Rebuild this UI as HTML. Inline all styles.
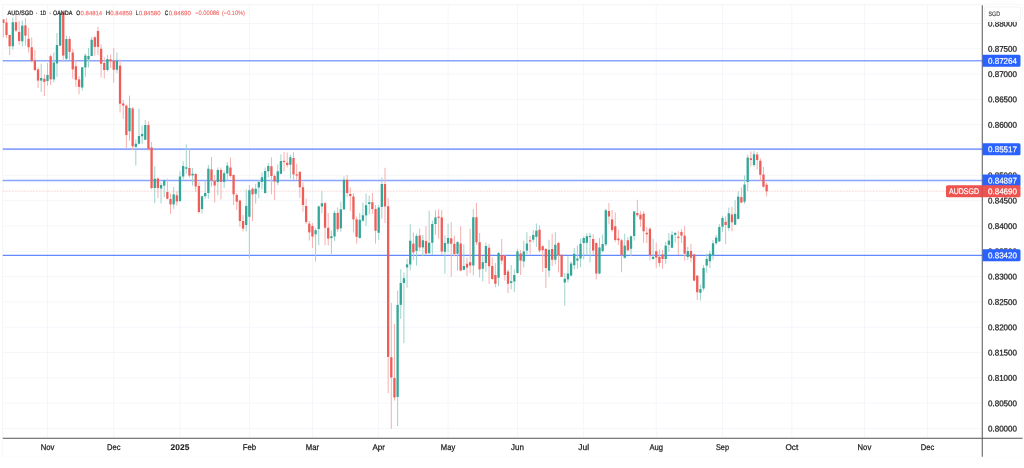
<!DOCTYPE html><html><head><meta charset="utf-8"><title>AUD/SGD</title>
<style>html,body{margin:0;padding:0;background:#fff}svg{display:block}text{font-family:"Liberation Sans","DejaVu Sans",sans-serif}</style></head><body>
<svg width="1024" height="468" viewBox="0 0 1024 468">
<rect width="1024" height="468" fill="#fff"/>
<defs><filter id="bl" x="0" y="0" width="1024" height="468" filterUnits="userSpaceOnUse"><feGaussianBlur stdDeviation="0.5"/></filter></defs>
<g filter="url(#bl)">
<rect x="2.75" y="4.75" width="1019.75" height="452.0" fill="none" stroke="#f0f2f5" stroke-width="0.8"/>
<g stroke="#f4f6fa" stroke-width="1" fill="none">
<line x1="47.50" y1="4.75" x2="47.50" y2="438.25"/>
<line x1="113.74" y1="4.75" x2="113.74" y2="438.25"/>
<line x1="179.97" y1="4.75" x2="179.97" y2="438.25"/>
<line x1="249.36" y1="4.75" x2="249.36" y2="438.25"/>
<line x1="312.44" y1="4.75" x2="312.44" y2="438.25"/>
<line x1="378.68" y1="4.75" x2="378.68" y2="438.25"/>
<line x1="448.07" y1="4.75" x2="448.07" y2="438.25"/>
<line x1="517.46" y1="4.75" x2="517.46" y2="438.25"/>
<line x1="583.70" y1="4.75" x2="583.70" y2="438.25"/>
<line x1="656.24" y1="4.75" x2="656.24" y2="438.25"/>
<line x1="722.48" y1="4.75" x2="722.48" y2="438.25"/>
<line x1="791.87" y1="4.75" x2="791.87" y2="438.25"/>
<line x1="864.41" y1="4.75" x2="864.41" y2="438.25"/>
<line x1="927.49" y1="4.75" x2="927.49" y2="438.25"/>
<line x1="2.75" y1="428.50" x2="982.25" y2="428.50"/>
<line x1="2.75" y1="403.19" x2="982.25" y2="403.19"/>
<line x1="2.75" y1="377.87" x2="982.25" y2="377.87"/>
<line x1="2.75" y1="352.55" x2="982.25" y2="352.55"/>
<line x1="2.75" y1="327.24" x2="982.25" y2="327.24"/>
<line x1="2.75" y1="301.92" x2="982.25" y2="301.92"/>
<line x1="2.75" y1="276.61" x2="982.25" y2="276.61"/>
<line x1="2.75" y1="251.29" x2="982.25" y2="251.29"/>
<line x1="2.75" y1="225.98" x2="982.25" y2="225.98"/>
<line x1="2.75" y1="200.66" x2="982.25" y2="200.66"/>
<line x1="2.75" y1="175.35" x2="982.25" y2="175.35"/>
<line x1="2.75" y1="150.03" x2="982.25" y2="150.03"/>
<line x1="2.75" y1="124.72" x2="982.25" y2="124.72"/>
<line x1="2.75" y1="99.40" x2="982.25" y2="99.40"/>
<line x1="2.75" y1="74.09" x2="982.25" y2="74.09"/>
<line x1="2.75" y1="48.77" x2="982.25" y2="48.77"/>
<line x1="2.75" y1="23.46" x2="982.25" y2="23.46"/>
</g>
<line x1="2.75" y1="191.2" x2="982.25" y2="191.2" stroke="#fad0ce" stroke-width="0.8" stroke-dasharray="2 1"/>
<line x1="2.75" y1="60.72" x2="982.25" y2="60.72" stroke="#88a4ff" stroke-width="1.6"/>
<line x1="2.75" y1="149.17" x2="982.25" y2="149.17" stroke="#88a4ff" stroke-width="1.6"/>
<line x1="2.75" y1="180.56" x2="982.25" y2="180.56" stroke="#88a4ff" stroke-width="1.6"/>
<line x1="2.75" y1="255.35" x2="982.25" y2="255.35" stroke="#6387ff" stroke-width="1.2"/>
<g id="candles">
<rect x="2.84" y="19.40" width="1.0" height="18.10" fill="#f6b0ae"/>
<rect x="2.75" y="19.40" width="1.74" height="3.60" fill="#f05d59"/>
<rect x="6.00" y="18.10" width="1.0" height="19.90" fill="#f6b0ae"/>
<rect x="5.35" y="22.50" width="2.30" height="12.50" fill="#f05d59"/>
<rect x="9.15" y="35.00" width="1.0" height="20.00" fill="#f6b0ae"/>
<rect x="8.50" y="35.00" width="2.30" height="11.25" fill="#f05d59"/>
<rect x="12.30" y="17.50" width="1.0" height="32.25" fill="#9fd3cc"/>
<rect x="11.65" y="22.25" width="2.30" height="24.00" fill="#33a698"/>
<rect x="15.46" y="15.00" width="1.0" height="16.90" fill="#f6b0ae"/>
<rect x="14.81" y="22.25" width="2.30" height="8.35" fill="#f05d59"/>
<rect x="18.61" y="21.00" width="1.0" height="24.00" fill="#f6b0ae"/>
<rect x="17.96" y="31.90" width="2.30" height="9.10" fill="#f05d59"/>
<rect x="21.77" y="20.60" width="1.0" height="25.90" fill="#9fd3cc"/>
<rect x="21.12" y="25.60" width="2.30" height="15.65" fill="#33a698"/>
<rect x="24.92" y="18.00" width="1.0" height="27.60" fill="#f6b0ae"/>
<rect x="24.27" y="25.40" width="2.30" height="10.20" fill="#f05d59"/>
<rect x="28.08" y="28.00" width="1.0" height="24.50" fill="#f6b0ae"/>
<rect x="27.43" y="38.75" width="2.30" height="8.50" fill="#f05d59"/>
<rect x="31.23" y="37.50" width="1.0" height="25.00" fill="#f6b0ae"/>
<rect x="30.58" y="47.25" width="2.30" height="13.75" fill="#f05d59"/>
<rect x="34.38" y="50.00" width="1.0" height="21.25" fill="#f6b0ae"/>
<rect x="33.73" y="60.60" width="2.30" height="9.40" fill="#f05d59"/>
<rect x="37.54" y="67.50" width="1.0" height="20.50" fill="#f6b0ae"/>
<rect x="36.89" y="69.40" width="2.30" height="11.20" fill="#f05d59"/>
<rect x="40.69" y="63.75" width="1.0" height="28.15" fill="#9fd3cc"/>
<rect x="40.04" y="78.00" width="2.30" height="2.60" fill="#33a698"/>
<rect x="43.85" y="74.40" width="1.0" height="21.60" fill="#f6b0ae"/>
<rect x="43.20" y="78.75" width="2.30" height="3.15" fill="#f05d59"/>
<rect x="47.00" y="63.00" width="1.0" height="22.60" fill="#9fd3cc"/>
<rect x="46.35" y="75.00" width="2.30" height="6.00" fill="#33a698"/>
<rect x="50.15" y="54.40" width="1.0" height="30.60" fill="#f6b0ae"/>
<rect x="49.50" y="56.25" width="2.30" height="23.15" fill="#f05d59"/>
<rect x="53.31" y="52.50" width="1.0" height="29.75" fill="#9fd3cc"/>
<rect x="52.66" y="62.50" width="2.30" height="16.90" fill="#33a698"/>
<rect x="56.46" y="33.00" width="1.0" height="43.90" fill="#9fd3cc"/>
<rect x="55.81" y="45.00" width="2.30" height="18.50" fill="#33a698"/>
<rect x="59.62" y="11.90" width="1.0" height="34.30" fill="#9fd3cc"/>
<rect x="58.97" y="13.75" width="2.30" height="31.85" fill="#33a698"/>
<rect x="62.77" y="11.25" width="1.0" height="50.65" fill="#f6b0ae"/>
<rect x="62.12" y="12.50" width="2.30" height="43.10" fill="#f05d59"/>
<rect x="65.92" y="35.60" width="1.0" height="24.40" fill="#9fd3cc"/>
<rect x="65.27" y="39.00" width="2.30" height="19.75" fill="#33a698"/>
<rect x="69.08" y="36.25" width="1.0" height="23.75" fill="#f6b0ae"/>
<rect x="68.43" y="39.00" width="2.30" height="12.90" fill="#f05d59"/>
<rect x="72.23" y="48.75" width="1.0" height="30.00" fill="#f6b0ae"/>
<rect x="71.58" y="52.50" width="2.30" height="16.90" fill="#f05d59"/>
<rect x="75.39" y="60.00" width="1.0" height="26.90" fill="#f6b0ae"/>
<rect x="74.74" y="66.25" width="2.30" height="13.50" fill="#f05d59"/>
<rect x="78.54" y="76.25" width="1.0" height="18.15" fill="#f6b0ae"/>
<rect x="77.89" y="79.40" width="2.30" height="7.50" fill="#f05d59"/>
<rect x="81.70" y="67.25" width="1.0" height="23.35" fill="#9fd3cc"/>
<rect x="81.05" y="67.25" width="2.30" height="20.25" fill="#33a698"/>
<rect x="84.85" y="53.75" width="1.0" height="23.15" fill="#9fd3cc"/>
<rect x="84.20" y="55.50" width="2.30" height="12.00" fill="#33a698"/>
<rect x="88.00" y="48.00" width="1.0" height="19.50" fill="#9fd3cc"/>
<rect x="87.35" y="56.00" width="2.30" height="3.40" fill="#33a698"/>
<rect x="91.16" y="36.90" width="1.0" height="19.35" fill="#9fd3cc"/>
<rect x="90.51" y="39.75" width="2.30" height="16.25" fill="#33a698"/>
<rect x="94.31" y="36.25" width="1.0" height="19.35" fill="#f6b0ae"/>
<rect x="93.66" y="37.25" width="2.30" height="9.65" fill="#f05d59"/>
<rect x="97.47" y="26.90" width="1.0" height="28.10" fill="#f6b0ae"/>
<rect x="96.82" y="31.00" width="2.30" height="15.90" fill="#f05d59"/>
<rect x="100.62" y="44.40" width="1.0" height="33.10" fill="#f6b0ae"/>
<rect x="99.97" y="48.75" width="2.30" height="15.00" fill="#f05d59"/>
<rect x="103.77" y="57.50" width="1.0" height="21.00" fill="#f6b0ae"/>
<rect x="103.12" y="63.00" width="2.30" height="7.00" fill="#f05d59"/>
<rect x="106.93" y="55.00" width="1.0" height="16.25" fill="#9fd3cc"/>
<rect x="106.28" y="59.00" width="2.30" height="11.00" fill="#33a698"/>
<rect x="110.08" y="54.40" width="1.0" height="13.60" fill="#f6b0ae"/>
<rect x="109.43" y="59.40" width="2.30" height="1.85" fill="#f05d59"/>
<rect x="113.24" y="48.00" width="1.0" height="34.75" fill="#f6b0ae"/>
<rect x="112.59" y="60.60" width="2.30" height="9.15" fill="#f05d59"/>
<rect x="116.39" y="52.50" width="1.0" height="20.50" fill="#9fd3cc"/>
<rect x="115.74" y="60.60" width="2.30" height="9.15" fill="#33a698"/>
<rect x="119.54" y="59.40" width="1.0" height="53.10" fill="#f6b0ae"/>
<rect x="118.89" y="65.60" width="2.30" height="38.15" fill="#f05d59"/>
<rect x="122.70" y="100.00" width="1.0" height="18.75" fill="#f6b0ae"/>
<rect x="122.05" y="103.50" width="2.30" height="2.10" fill="#f05d59"/>
<rect x="125.85" y="104.40" width="1.0" height="43.60" fill="#f6b0ae"/>
<rect x="125.20" y="105.60" width="2.30" height="29.40" fill="#f05d59"/>
<rect x="129.01" y="95.60" width="1.0" height="45.00" fill="#9fd3cc"/>
<rect x="128.36" y="107.90" width="2.30" height="23.35" fill="#33a698"/>
<rect x="132.16" y="106.90" width="1.0" height="43.10" fill="#f6b0ae"/>
<rect x="131.51" y="108.50" width="2.30" height="37.75" fill="#f05d59"/>
<rect x="135.31" y="139.40" width="1.0" height="26.20" fill="#9fd3cc"/>
<rect x="134.66" y="143.75" width="2.30" height="3.15" fill="#33a698"/>
<rect x="138.47" y="108.75" width="1.0" height="35.65" fill="#9fd3cc"/>
<rect x="137.82" y="136.00" width="2.30" height="7.75" fill="#33a698"/>
<rect x="141.62" y="125.60" width="1.0" height="18.15" fill="#9fd3cc"/>
<rect x="140.97" y="134.00" width="2.30" height="2.25" fill="#33a698"/>
<rect x="144.78" y="120.00" width="1.0" height="20.00" fill="#9fd3cc"/>
<rect x="144.13" y="125.00" width="2.30" height="14.75" fill="#33a698"/>
<rect x="147.93" y="121.25" width="1.0" height="29.35" fill="#f6b0ae"/>
<rect x="147.28" y="125.00" width="2.30" height="24.00" fill="#f05d59"/>
<rect x="151.09" y="141.90" width="1.0" height="47.50" fill="#f6b0ae"/>
<rect x="150.44" y="147.50" width="2.30" height="40.50" fill="#f05d59"/>
<rect x="154.24" y="166.25" width="1.0" height="36.75" fill="#9fd3cc"/>
<rect x="153.59" y="178.75" width="2.30" height="9.25" fill="#33a698"/>
<rect x="157.39" y="177.50" width="1.0" height="20.50" fill="#f6b0ae"/>
<rect x="156.74" y="178.50" width="2.30" height="9.50" fill="#f05d59"/>
<rect x="160.55" y="182.50" width="1.0" height="21.00" fill="#9fd3cc"/>
<rect x="159.90" y="185.00" width="2.30" height="3.50" fill="#33a698"/>
<rect x="163.70" y="179.40" width="1.0" height="17.60" fill="#9fd3cc"/>
<rect x="163.05" y="180.25" width="2.30" height="5.35" fill="#33a698"/>
<rect x="166.86" y="178.75" width="1.0" height="20.65" fill="#f6b0ae"/>
<rect x="166.21" y="192.00" width="2.30" height="6.75" fill="#f05d59"/>
<rect x="170.01" y="193.75" width="1.0" height="20.00" fill="#f6b0ae"/>
<rect x="169.36" y="199.00" width="2.30" height="5.40" fill="#f05d59"/>
<rect x="173.16" y="187.00" width="1.0" height="21.75" fill="#9fd3cc"/>
<rect x="172.51" y="194.40" width="2.30" height="10.00" fill="#33a698"/>
<rect x="176.32" y="191.25" width="1.0" height="14.35" fill="#f6b0ae"/>
<rect x="175.67" y="195.25" width="2.30" height="6.25" fill="#f05d59"/>
<rect x="179.47" y="171.25" width="1.0" height="30.75" fill="#9fd3cc"/>
<rect x="178.82" y="176.50" width="2.30" height="24.50" fill="#33a698"/>
<rect x="182.63" y="161.25" width="1.0" height="18.15" fill="#9fd3cc"/>
<rect x="181.98" y="166.00" width="2.30" height="10.50" fill="#33a698"/>
<rect x="185.78" y="144.40" width="1.0" height="29.35" fill="#9fd3cc"/>
<rect x="185.13" y="167.25" width="2.30" height="1.50" fill="#33a698"/>
<rect x="188.93" y="148.75" width="1.0" height="28.75" fill="#f6b0ae"/>
<rect x="188.28" y="168.00" width="2.30" height="7.60" fill="#f05d59"/>
<rect x="192.09" y="168.00" width="1.0" height="17.60" fill="#9fd3cc"/>
<rect x="191.44" y="173.75" width="2.30" height="1.65" fill="#33a698"/>
<rect x="195.24" y="173.00" width="1.0" height="19.00" fill="#f6b0ae"/>
<rect x="194.59" y="174.00" width="2.30" height="12.50" fill="#f05d59"/>
<rect x="198.40" y="182.00" width="1.0" height="31.50" fill="#f6b0ae"/>
<rect x="197.75" y="186.00" width="2.30" height="26.00" fill="#f05d59"/>
<rect x="201.55" y="195.60" width="1.0" height="17.90" fill="#9fd3cc"/>
<rect x="200.90" y="196.25" width="2.30" height="12.75" fill="#33a698"/>
<rect x="204.71" y="180.60" width="1.0" height="18.15" fill="#9fd3cc"/>
<rect x="204.06" y="193.00" width="2.30" height="3.25" fill="#33a698"/>
<rect x="207.86" y="165.00" width="1.0" height="33.75" fill="#9fd3cc"/>
<rect x="207.21" y="168.75" width="2.30" height="24.25" fill="#33a698"/>
<rect x="211.01" y="156.90" width="1.0" height="29.35" fill="#f6b0ae"/>
<rect x="210.36" y="169.40" width="2.30" height="11.20" fill="#f05d59"/>
<rect x="214.17" y="175.00" width="1.0" height="27.50" fill="#f6b0ae"/>
<rect x="213.52" y="181.00" width="2.30" height="4.50" fill="#f05d59"/>
<rect x="217.32" y="167.50" width="1.0" height="27.80" fill="#9fd3cc"/>
<rect x="216.67" y="170.00" width="2.30" height="11.90" fill="#33a698"/>
<rect x="220.48" y="167.50" width="1.0" height="32.10" fill="#f6b0ae"/>
<rect x="219.83" y="170.00" width="2.30" height="11.90" fill="#f05d59"/>
<rect x="223.63" y="170.60" width="1.0" height="17.40" fill="#9fd3cc"/>
<rect x="222.98" y="173.25" width="2.30" height="8.65" fill="#33a698"/>
<rect x="226.78" y="162.00" width="1.0" height="18.00" fill="#9fd3cc"/>
<rect x="226.13" y="165.60" width="2.30" height="7.90" fill="#33a698"/>
<rect x="229.94" y="157.50" width="1.0" height="20.25" fill="#f6b0ae"/>
<rect x="229.29" y="167.50" width="2.30" height="8.50" fill="#f05d59"/>
<rect x="233.09" y="174.40" width="1.0" height="30.60" fill="#f6b0ae"/>
<rect x="232.44" y="175.00" width="2.30" height="19.40" fill="#f05d59"/>
<rect x="236.25" y="193.00" width="1.0" height="17.00" fill="#f6b0ae"/>
<rect x="235.60" y="195.00" width="2.30" height="6.70" fill="#f05d59"/>
<rect x="239.40" y="199.40" width="1.0" height="27.35" fill="#f6b0ae"/>
<rect x="238.75" y="200.50" width="2.30" height="20.50" fill="#f05d59"/>
<rect x="242.55" y="215.00" width="1.0" height="16.50" fill="#f6b0ae"/>
<rect x="241.90" y="221.00" width="2.30" height="7.60" fill="#f05d59"/>
<rect x="245.71" y="189.40" width="1.0" height="42.10" fill="#9fd3cc"/>
<rect x="245.06" y="206.00" width="2.30" height="19.00" fill="#33a698"/>
<rect x="248.86" y="185.00" width="1.0" height="73.50" fill="#9fd3cc"/>
<rect x="248.21" y="190.25" width="2.30" height="26.50" fill="#33a698"/>
<rect x="252.02" y="187.50" width="1.0" height="33.50" fill="#f6b0ae"/>
<rect x="251.37" y="188.75" width="2.30" height="5.65" fill="#f05d59"/>
<rect x="255.17" y="183.75" width="1.0" height="19.85" fill="#9fd3cc"/>
<rect x="254.52" y="188.75" width="2.30" height="5.00" fill="#33a698"/>
<rect x="258.32" y="180.00" width="1.0" height="18.30" fill="#9fd3cc"/>
<rect x="257.67" y="181.90" width="2.30" height="5.60" fill="#33a698"/>
<rect x="261.48" y="172.50" width="1.0" height="16.90" fill="#9fd3cc"/>
<rect x="260.83" y="177.25" width="2.30" height="4.65" fill="#33a698"/>
<rect x="264.63" y="167.50" width="1.0" height="26.25" fill="#9fd3cc"/>
<rect x="263.98" y="171.00" width="2.30" height="22.00" fill="#33a698"/>
<rect x="267.79" y="163.00" width="1.0" height="14.50" fill="#9fd3cc"/>
<rect x="267.14" y="166.00" width="2.30" height="5.25" fill="#33a698"/>
<rect x="270.94" y="157.50" width="1.0" height="36.90" fill="#f6b0ae"/>
<rect x="270.29" y="166.25" width="2.30" height="9.75" fill="#f05d59"/>
<rect x="274.10" y="174.40" width="1.0" height="25.60" fill="#f6b0ae"/>
<rect x="273.45" y="176.00" width="2.30" height="5.50" fill="#f05d59"/>
<rect x="277.25" y="164.40" width="1.0" height="20.60" fill="#9fd3cc"/>
<rect x="276.60" y="171.25" width="2.30" height="11.25" fill="#33a698"/>
<rect x="280.40" y="154.40" width="1.0" height="20.00" fill="#9fd3cc"/>
<rect x="279.75" y="161.00" width="2.30" height="12.75" fill="#33a698"/>
<rect x="283.56" y="151.90" width="1.0" height="19.35" fill="#f6b0ae"/>
<rect x="282.91" y="160.85" width="2.30" height="1.20" fill="#f05d59"/>
<rect x="286.71" y="152.50" width="1.0" height="15.00" fill="#f6b0ae"/>
<rect x="286.06" y="162.75" width="2.30" height="2.25" fill="#f05d59"/>
<rect x="289.87" y="154.75" width="1.0" height="24.00" fill="#9fd3cc"/>
<rect x="289.22" y="157.25" width="2.30" height="7.50" fill="#33a698"/>
<rect x="293.02" y="152.25" width="1.0" height="27.50" fill="#f6b0ae"/>
<rect x="292.37" y="158.00" width="2.30" height="16.40" fill="#f05d59"/>
<rect x="296.17" y="163.75" width="1.0" height="16.00" fill="#f6b0ae"/>
<rect x="295.52" y="174.40" width="2.30" height="1.20" fill="#f05d59"/>
<rect x="299.33" y="171.25" width="1.0" height="26.75" fill="#f6b0ae"/>
<rect x="298.68" y="171.90" width="2.30" height="15.35" fill="#f05d59"/>
<rect x="302.48" y="182.50" width="1.0" height="29.25" fill="#f6b0ae"/>
<rect x="301.83" y="187.25" width="2.30" height="17.75" fill="#f05d59"/>
<rect x="305.64" y="198.60" width="1.0" height="25.65" fill="#f6b0ae"/>
<rect x="304.99" y="206.00" width="2.30" height="16.00" fill="#f05d59"/>
<rect x="308.79" y="221.00" width="1.0" height="19.50" fill="#f6b0ae"/>
<rect x="308.14" y="223.60" width="2.30" height="8.80" fill="#f05d59"/>
<rect x="311.94" y="223.00" width="1.0" height="25.00" fill="#f6b0ae"/>
<rect x="311.29" y="226.00" width="2.30" height="10.50" fill="#f05d59"/>
<rect x="315.10" y="228.00" width="1.0" height="33.60" fill="#9fd3cc"/>
<rect x="314.45" y="230.25" width="2.30" height="4.00" fill="#33a698"/>
<rect x="318.25" y="205.50" width="1.0" height="39.75" fill="#9fd3cc"/>
<rect x="317.60" y="206.50" width="2.30" height="22.50" fill="#33a698"/>
<rect x="321.41" y="191.25" width="1.0" height="22.00" fill="#9fd3cc"/>
<rect x="320.76" y="203.25" width="2.30" height="3.25" fill="#33a698"/>
<rect x="324.56" y="201.75" width="1.0" height="43.50" fill="#f6b0ae"/>
<rect x="323.91" y="203.25" width="2.30" height="24.50" fill="#f05d59"/>
<rect x="327.71" y="213.00" width="1.0" height="32.50" fill="#f6b0ae"/>
<rect x="327.06" y="227.75" width="2.30" height="10.85" fill="#f05d59"/>
<rect x="330.87" y="230.60" width="1.0" height="23.40" fill="#9fd3cc"/>
<rect x="330.22" y="236.25" width="2.30" height="1.85" fill="#33a698"/>
<rect x="334.02" y="210.50" width="1.0" height="30.50" fill="#9fd3cc"/>
<rect x="333.37" y="212.90" width="2.30" height="23.60" fill="#33a698"/>
<rect x="337.18" y="207.40" width="1.0" height="24.60" fill="#f6b0ae"/>
<rect x="336.53" y="212.90" width="2.30" height="16.35" fill="#f05d59"/>
<rect x="340.33" y="201.80" width="1.0" height="29.95" fill="#9fd3cc"/>
<rect x="339.68" y="209.30" width="2.30" height="18.95" fill="#33a698"/>
<rect x="343.49" y="176.25" width="1.0" height="33.50" fill="#9fd3cc"/>
<rect x="342.84" y="179.75" width="2.30" height="29.65" fill="#33a698"/>
<rect x="346.64" y="175.00" width="1.0" height="21.90" fill="#f6b0ae"/>
<rect x="345.99" y="179.75" width="2.30" height="13.25" fill="#f05d59"/>
<rect x="349.79" y="187.50" width="1.0" height="23.10" fill="#f6b0ae"/>
<rect x="349.14" y="194.00" width="2.30" height="2.00" fill="#f05d59"/>
<rect x="352.95" y="193.00" width="1.0" height="39.40" fill="#f6b0ae"/>
<rect x="352.30" y="196.50" width="2.30" height="22.90" fill="#f05d59"/>
<rect x="356.10" y="216.50" width="1.0" height="27.10" fill="#f6b0ae"/>
<rect x="355.45" y="219.30" width="2.30" height="17.45" fill="#f05d59"/>
<rect x="359.26" y="213.00" width="1.0" height="25.60" fill="#9fd3cc"/>
<rect x="358.61" y="219.80" width="2.30" height="18.20" fill="#33a698"/>
<rect x="362.41" y="202.50" width="1.0" height="19.25" fill="#9fd3cc"/>
<rect x="361.76" y="215.25" width="2.30" height="5.45" fill="#33a698"/>
<rect x="365.56" y="193.50" width="1.0" height="32.50" fill="#9fd3cc"/>
<rect x="364.91" y="205.25" width="2.30" height="10.15" fill="#33a698"/>
<rect x="368.72" y="195.60" width="1.0" height="18.80" fill="#9fd3cc"/>
<rect x="368.07" y="202.25" width="2.30" height="1.75" fill="#33a698"/>
<rect x="371.87" y="193.00" width="1.0" height="20.75" fill="#f6b0ae"/>
<rect x="371.22" y="202.25" width="2.30" height="6.75" fill="#f05d59"/>
<rect x="375.03" y="205.00" width="1.0" height="38.60" fill="#f6b0ae"/>
<rect x="374.38" y="209.00" width="2.30" height="21.75" fill="#f05d59"/>
<rect x="378.18" y="205.00" width="1.0" height="34.90" fill="#9fd3cc"/>
<rect x="377.53" y="207.50" width="2.30" height="25.25" fill="#33a698"/>
<rect x="381.33" y="177.50" width="1.0" height="41.20" fill="#9fd3cc"/>
<rect x="380.68" y="184.00" width="2.30" height="22.90" fill="#33a698"/>
<rect x="384.49" y="167.75" width="1.0" height="55.25" fill="#f6b0ae"/>
<rect x="383.84" y="184.00" width="2.30" height="22.50" fill="#f05d59"/>
<rect x="387.64" y="198.00" width="1.0" height="195.00" fill="#f6b0ae"/>
<rect x="386.99" y="206.25" width="2.30" height="150.65" fill="#f05d59"/>
<rect x="390.80" y="303.00" width="1.0" height="125.75" fill="#f6b0ae"/>
<rect x="390.15" y="357.25" width="2.30" height="20.25" fill="#f05d59"/>
<rect x="393.95" y="323.90" width="1.0" height="76.70" fill="#f6b0ae"/>
<rect x="393.30" y="378.00" width="2.30" height="19.50" fill="#f05d59"/>
<rect x="397.11" y="290.50" width="1.0" height="135.50" fill="#9fd3cc"/>
<rect x="396.46" y="304.90" width="2.30" height="92.00" fill="#33a698"/>
<rect x="400.26" y="269.25" width="1.0" height="49.65" fill="#9fd3cc"/>
<rect x="399.61" y="283.00" width="2.30" height="21.90" fill="#33a698"/>
<rect x="403.41" y="272.40" width="1.0" height="70.85" fill="#9fd3cc"/>
<rect x="402.76" y="278.25" width="2.30" height="4.75" fill="#33a698"/>
<rect x="406.57" y="258.90" width="1.0" height="28.85" fill="#9fd3cc"/>
<rect x="405.92" y="264.40" width="2.30" height="3.00" fill="#33a698"/>
<rect x="409.72" y="224.25" width="1.0" height="46.25" fill="#9fd3cc"/>
<rect x="409.07" y="240.75" width="2.30" height="23.75" fill="#33a698"/>
<rect x="412.88" y="232.40" width="1.0" height="27.50" fill="#f6b0ae"/>
<rect x="412.23" y="243.60" width="2.30" height="8.80" fill="#f05d59"/>
<rect x="416.03" y="233.60" width="1.0" height="32.00" fill="#9fd3cc"/>
<rect x="415.38" y="236.00" width="2.30" height="15.00" fill="#33a698"/>
<rect x="419.18" y="228.60" width="1.0" height="22.40" fill="#f6b0ae"/>
<rect x="418.53" y="235.50" width="2.30" height="11.90" fill="#f05d59"/>
<rect x="422.34" y="234.90" width="1.0" height="21.10" fill="#9fd3cc"/>
<rect x="421.69" y="240.25" width="2.30" height="7.15" fill="#33a698"/>
<rect x="425.49" y="226.00" width="1.0" height="28.25" fill="#f6b0ae"/>
<rect x="424.84" y="241.00" width="2.30" height="12.60" fill="#f05d59"/>
<rect x="428.65" y="210.60" width="1.0" height="43.00" fill="#9fd3cc"/>
<rect x="428.00" y="242.75" width="2.30" height="10.50" fill="#33a698"/>
<rect x="431.80" y="220.50" width="1.0" height="34.40" fill="#9fd3cc"/>
<rect x="431.15" y="224.00" width="2.30" height="18.75" fill="#33a698"/>
<rect x="434.95" y="210.00" width="1.0" height="24.90" fill="#9fd3cc"/>
<rect x="434.30" y="217.40" width="2.30" height="6.60" fill="#33a698"/>
<rect x="438.11" y="209.40" width="1.0" height="29.20" fill="#f6b0ae"/>
<rect x="437.46" y="216.65" width="2.30" height="1.20" fill="#f05d59"/>
<rect x="441.26" y="210.00" width="1.0" height="44.90" fill="#f6b0ae"/>
<rect x="440.61" y="217.40" width="2.30" height="34.10" fill="#f05d59"/>
<rect x="444.42" y="235.50" width="1.0" height="38.10" fill="#9fd3cc"/>
<rect x="443.77" y="243.00" width="2.30" height="8.75" fill="#33a698"/>
<rect x="447.57" y="223.60" width="1.0" height="28.80" fill="#9fd3cc"/>
<rect x="446.92" y="238.00" width="2.30" height="5.60" fill="#33a698"/>
<rect x="450.72" y="222.20" width="1.0" height="54.60" fill="#f6b0ae"/>
<rect x="450.07" y="238.40" width="2.30" height="5.30" fill="#f05d59"/>
<rect x="453.88" y="235.50" width="1.0" height="20.90" fill="#f6b0ae"/>
<rect x="453.23" y="243.80" width="2.30" height="10.10" fill="#f05d59"/>
<rect x="457.03" y="241.25" width="1.0" height="29.35" fill="#9fd3cc"/>
<rect x="456.38" y="242.10" width="2.30" height="11.65" fill="#33a698"/>
<rect x="460.19" y="226.25" width="1.0" height="45.00" fill="#f6b0ae"/>
<rect x="459.54" y="243.50" width="2.30" height="27.10" fill="#f05d59"/>
<rect x="463.34" y="244.40" width="1.0" height="26.20" fill="#9fd3cc"/>
<rect x="462.69" y="266.00" width="2.30" height="3.80" fill="#33a698"/>
<rect x="466.50" y="257.40" width="1.0" height="18.60" fill="#f6b0ae"/>
<rect x="465.85" y="263.70" width="2.30" height="3.90" fill="#f05d59"/>
<rect x="469.65" y="228.75" width="1.0" height="44.15" fill="#f6b0ae"/>
<rect x="469.00" y="262.20" width="2.30" height="3.30" fill="#f05d59"/>
<rect x="472.80" y="209.10" width="1.0" height="66.30" fill="#9fd3cc"/>
<rect x="472.15" y="217.25" width="2.30" height="48.25" fill="#33a698"/>
<rect x="475.96" y="203.10" width="1.0" height="41.90" fill="#f6b0ae"/>
<rect x="475.31" y="217.25" width="2.30" height="25.00" fill="#f05d59"/>
<rect x="479.11" y="233.00" width="1.0" height="44.50" fill="#f6b0ae"/>
<rect x="478.46" y="242.25" width="2.30" height="27.15" fill="#f05d59"/>
<rect x="482.27" y="256.25" width="1.0" height="25.25" fill="#9fd3cc"/>
<rect x="481.62" y="262.20" width="2.30" height="6.55" fill="#33a698"/>
<rect x="485.42" y="242.50" width="1.0" height="29.40" fill="#9fd3cc"/>
<rect x="484.77" y="246.00" width="2.30" height="17.00" fill="#33a698"/>
<rect x="488.57" y="244.00" width="1.0" height="40.00" fill="#f6b0ae"/>
<rect x="487.92" y="247.75" width="2.30" height="18.50" fill="#f05d59"/>
<rect x="491.73" y="257.50" width="1.0" height="22.25" fill="#f6b0ae"/>
<rect x="491.08" y="266.00" width="2.30" height="13.00" fill="#f05d59"/>
<rect x="494.88" y="263.00" width="1.0" height="24.25" fill="#f6b0ae"/>
<rect x="494.23" y="275.00" width="2.30" height="8.75" fill="#f05d59"/>
<rect x="498.04" y="251.90" width="1.0" height="34.35" fill="#9fd3cc"/>
<rect x="497.39" y="253.00" width="2.30" height="24.75" fill="#33a698"/>
<rect x="501.19" y="239.00" width="1.0" height="25.40" fill="#f6b0ae"/>
<rect x="500.54" y="255.00" width="2.30" height="5.60" fill="#f05d59"/>
<rect x="504.34" y="255.00" width="1.0" height="25.60" fill="#f6b0ae"/>
<rect x="503.69" y="255.60" width="2.30" height="19.40" fill="#f05d59"/>
<rect x="507.50" y="269.40" width="1.0" height="23.60" fill="#f6b0ae"/>
<rect x="506.85" y="271.50" width="2.30" height="12.25" fill="#f05d59"/>
<rect x="510.65" y="265.00" width="1.0" height="24.40" fill="#9fd3cc"/>
<rect x="510.00" y="281.25" width="2.30" height="1.75" fill="#33a698"/>
<rect x="513.81" y="269.40" width="1.0" height="22.50" fill="#9fd3cc"/>
<rect x="513.16" y="275.00" width="2.30" height="6.50" fill="#33a698"/>
<rect x="516.96" y="249.00" width="1.0" height="24.75" fill="#9fd3cc"/>
<rect x="516.31" y="251.40" width="2.30" height="21.60" fill="#33a698"/>
<rect x="520.12" y="250.00" width="1.0" height="25.00" fill="#f6b0ae"/>
<rect x="519.47" y="253.50" width="2.30" height="7.10" fill="#f05d59"/>
<rect x="523.27" y="240.60" width="1.0" height="26.90" fill="#9fd3cc"/>
<rect x="522.62" y="251.50" width="2.30" height="9.90" fill="#33a698"/>
<rect x="526.42" y="232.25" width="1.0" height="22.15" fill="#9fd3cc"/>
<rect x="525.77" y="243.50" width="2.30" height="7.10" fill="#33a698"/>
<rect x="529.58" y="236.00" width="1.0" height="18.00" fill="#f6b0ae"/>
<rect x="528.93" y="240.25" width="2.30" height="1.25" fill="#f05d59"/>
<rect x="532.73" y="230.00" width="1.0" height="12.50" fill="#9fd3cc"/>
<rect x="532.08" y="235.00" width="2.30" height="4.75" fill="#33a698"/>
<rect x="535.89" y="223.50" width="1.0" height="23.40" fill="#9fd3cc"/>
<rect x="535.24" y="230.60" width="2.30" height="6.30" fill="#33a698"/>
<rect x="539.04" y="225.25" width="1.0" height="27.25" fill="#f6b0ae"/>
<rect x="538.39" y="229.75" width="2.30" height="20.85" fill="#f05d59"/>
<rect x="542.19" y="245.25" width="1.0" height="26.65" fill="#f6b0ae"/>
<rect x="541.54" y="246.25" width="2.30" height="4.00" fill="#f05d59"/>
<rect x="545.35" y="248.10" width="1.0" height="39.90" fill="#f6b0ae"/>
<rect x="544.70" y="249.00" width="2.30" height="19.00" fill="#f05d59"/>
<rect x="548.50" y="239.75" width="1.0" height="37.15" fill="#9fd3cc"/>
<rect x="547.85" y="249.75" width="2.30" height="20.85" fill="#33a698"/>
<rect x="551.66" y="233.75" width="1.0" height="32.25" fill="#f6b0ae"/>
<rect x="551.01" y="249.00" width="2.30" height="10.75" fill="#f05d59"/>
<rect x="554.81" y="232.25" width="1.0" height="32.15" fill="#9fd3cc"/>
<rect x="554.16" y="244.75" width="2.30" height="15.00" fill="#33a698"/>
<rect x="557.96" y="241.90" width="1.0" height="30.60" fill="#f6b0ae"/>
<rect x="557.31" y="243.00" width="2.30" height="12.00" fill="#f05d59"/>
<rect x="561.12" y="254.40" width="1.0" height="22.60" fill="#f6b0ae"/>
<rect x="560.47" y="254.75" width="2.30" height="22.15" fill="#f05d59"/>
<rect x="564.27" y="273.00" width="1.0" height="32.60" fill="#9fd3cc"/>
<rect x="563.62" y="278.75" width="2.30" height="3.75" fill="#33a698"/>
<rect x="567.43" y="256.25" width="1.0" height="26.50" fill="#9fd3cc"/>
<rect x="566.78" y="273.50" width="2.30" height="5.90" fill="#33a698"/>
<rect x="570.58" y="261.25" width="1.0" height="15.00" fill="#9fd3cc"/>
<rect x="569.93" y="263.50" width="2.30" height="12.10" fill="#33a698"/>
<rect x="573.73" y="248.00" width="1.0" height="21.40" fill="#9fd3cc"/>
<rect x="573.08" y="253.75" width="2.30" height="11.50" fill="#33a698"/>
<rect x="576.89" y="245.60" width="1.0" height="23.15" fill="#9fd3cc"/>
<rect x="576.24" y="258.50" width="2.30" height="2.10" fill="#33a698"/>
<rect x="580.04" y="238.75" width="1.0" height="28.75" fill="#9fd3cc"/>
<rect x="579.39" y="243.75" width="2.30" height="14.75" fill="#33a698"/>
<rect x="583.20" y="236.25" width="1.0" height="23.15" fill="#9fd3cc"/>
<rect x="582.55" y="238.00" width="2.30" height="5.00" fill="#33a698"/>
<rect x="586.35" y="233.00" width="1.0" height="22.60" fill="#9fd3cc"/>
<rect x="585.70" y="236.25" width="2.30" height="6.50" fill="#33a698"/>
<rect x="589.51" y="232.75" width="1.0" height="29.75" fill="#9fd3cc"/>
<rect x="588.86" y="235.85" width="2.30" height="1.20" fill="#33a698"/>
<rect x="592.66" y="234.40" width="1.0" height="20.60" fill="#f6b0ae"/>
<rect x="592.01" y="239.00" width="2.30" height="11.60" fill="#f05d59"/>
<rect x="595.81" y="242.50" width="1.0" height="36.90" fill="#f6b0ae"/>
<rect x="595.16" y="243.00" width="2.30" height="30.50" fill="#f05d59"/>
<rect x="598.97" y="238.00" width="1.0" height="36.40" fill="#9fd3cc"/>
<rect x="598.32" y="247.50" width="2.30" height="26.00" fill="#33a698"/>
<rect x="602.12" y="234.40" width="1.0" height="18.10" fill="#9fd3cc"/>
<rect x="601.47" y="244.00" width="2.30" height="7.00" fill="#33a698"/>
<rect x="605.28" y="208.75" width="1.0" height="37.50" fill="#9fd3cc"/>
<rect x="604.63" y="210.25" width="2.30" height="34.15" fill="#33a698"/>
<rect x="608.43" y="203.00" width="1.0" height="21.40" fill="#f6b0ae"/>
<rect x="607.78" y="211.00" width="2.30" height="5.50" fill="#f05d59"/>
<rect x="611.58" y="210.00" width="1.0" height="21.90" fill="#f6b0ae"/>
<rect x="610.93" y="219.40" width="2.30" height="10.60" fill="#f05d59"/>
<rect x="614.74" y="212.50" width="1.0" height="29.40" fill="#f6b0ae"/>
<rect x="614.09" y="226.25" width="2.30" height="13.75" fill="#f05d59"/>
<rect x="617.89" y="229.75" width="1.0" height="15.25" fill="#f6b0ae"/>
<rect x="617.24" y="238.50" width="2.30" height="1.75" fill="#f05d59"/>
<rect x="621.05" y="238.75" width="1.0" height="33.50" fill="#f6b0ae"/>
<rect x="620.40" y="240.25" width="2.30" height="15.00" fill="#f05d59"/>
<rect x="624.20" y="233.75" width="1.0" height="25.00" fill="#9fd3cc"/>
<rect x="623.55" y="245.60" width="2.30" height="12.15" fill="#33a698"/>
<rect x="627.35" y="237.25" width="1.0" height="14.00" fill="#f6b0ae"/>
<rect x="626.70" y="240.25" width="2.30" height="10.00" fill="#f05d59"/>
<rect x="630.51" y="235.60" width="1.0" height="20.40" fill="#9fd3cc"/>
<rect x="629.86" y="236.25" width="2.30" height="12.50" fill="#33a698"/>
<rect x="633.66" y="211.00" width="1.0" height="29.60" fill="#9fd3cc"/>
<rect x="633.01" y="211.50" width="2.30" height="24.50" fill="#33a698"/>
<rect x="636.82" y="199.70" width="1.0" height="17.20" fill="#f6b0ae"/>
<rect x="636.17" y="213.00" width="2.30" height="2.25" fill="#f05d59"/>
<rect x="639.97" y="211.25" width="1.0" height="15.65" fill="#f6b0ae"/>
<rect x="639.32" y="214.75" width="2.30" height="4.65" fill="#f05d59"/>
<rect x="643.12" y="211.25" width="1.0" height="31.75" fill="#f6b0ae"/>
<rect x="642.47" y="213.75" width="2.30" height="17.50" fill="#f05d59"/>
<rect x="646.28" y="226.90" width="1.0" height="16.10" fill="#f6b0ae"/>
<rect x="645.63" y="232.75" width="2.30" height="1.65" fill="#f05d59"/>
<rect x="649.43" y="227.25" width="1.0" height="33.00" fill="#f6b0ae"/>
<rect x="648.78" y="228.75" width="2.30" height="26.50" fill="#f05d59"/>
<rect x="652.59" y="238.75" width="1.0" height="20.65" fill="#9fd3cc"/>
<rect x="651.94" y="256.90" width="2.30" height="2.10" fill="#33a698"/>
<rect x="655.74" y="242.50" width="1.0" height="25.50" fill="#f6b0ae"/>
<rect x="655.09" y="251.25" width="2.30" height="6.25" fill="#f05d59"/>
<rect x="658.90" y="249.40" width="1.0" height="17.50" fill="#f6b0ae"/>
<rect x="658.25" y="256.90" width="2.30" height="6.10" fill="#f05d59"/>
<rect x="662.05" y="250.00" width="1.0" height="18.75" fill="#f6b0ae"/>
<rect x="661.40" y="254.40" width="2.30" height="4.60" fill="#f05d59"/>
<rect x="665.20" y="241.90" width="1.0" height="22.10" fill="#9fd3cc"/>
<rect x="664.55" y="245.60" width="2.30" height="13.40" fill="#33a698"/>
<rect x="668.36" y="233.00" width="1.0" height="18.90" fill="#9fd3cc"/>
<rect x="667.71" y="240.60" width="2.30" height="4.15" fill="#33a698"/>
<rect x="671.51" y="231.25" width="1.0" height="16.85" fill="#9fd3cc"/>
<rect x="670.86" y="234.75" width="2.30" height="13.00" fill="#33a698"/>
<rect x="674.67" y="231.90" width="1.0" height="10.60" fill="#9fd3cc"/>
<rect x="674.02" y="233.00" width="2.30" height="1.75" fill="#33a698"/>
<rect x="677.82" y="231.00" width="1.0" height="24.00" fill="#f6b0ae"/>
<rect x="677.17" y="236.72" width="2.30" height="1.20" fill="#f05d59"/>
<rect x="680.97" y="229.00" width="1.0" height="14.00" fill="#f6b0ae"/>
<rect x="680.32" y="231.90" width="2.30" height="3.70" fill="#f05d59"/>
<rect x="684.13" y="226.00" width="1.0" height="34.60" fill="#f6b0ae"/>
<rect x="683.48" y="235.60" width="2.30" height="18.15" fill="#f05d59"/>
<rect x="687.28" y="246.90" width="1.0" height="13.10" fill="#9fd3cc"/>
<rect x="686.63" y="251.10" width="2.30" height="5.80" fill="#33a698"/>
<rect x="690.44" y="243.80" width="1.0" height="18.60" fill="#f6b0ae"/>
<rect x="689.79" y="251.00" width="2.30" height="6.75" fill="#f05d59"/>
<rect x="693.59" y="253.75" width="1.0" height="27.50" fill="#f6b0ae"/>
<rect x="692.94" y="254.40" width="2.30" height="26.20" fill="#f05d59"/>
<rect x="696.74" y="275.00" width="1.0" height="25.00" fill="#f6b0ae"/>
<rect x="696.09" y="275.60" width="2.30" height="16.65" fill="#f05d59"/>
<rect x="699.90" y="284.75" width="1.0" height="15.85" fill="#9fd3cc"/>
<rect x="699.25" y="289.00" width="2.30" height="3.75" fill="#33a698"/>
<rect x="703.05" y="265.00" width="1.0" height="25.60" fill="#9fd3cc"/>
<rect x="702.40" y="268.00" width="2.30" height="20.50" fill="#33a698"/>
<rect x="706.21" y="253.50" width="1.0" height="19.25" fill="#9fd3cc"/>
<rect x="705.56" y="259.00" width="2.30" height="6.60" fill="#33a698"/>
<rect x="709.36" y="250.60" width="1.0" height="17.40" fill="#9fd3cc"/>
<rect x="708.71" y="253.75" width="2.30" height="7.50" fill="#33a698"/>
<rect x="712.52" y="240.00" width="1.0" height="19.75" fill="#9fd3cc"/>
<rect x="711.87" y="243.25" width="2.30" height="12.00" fill="#33a698"/>
<rect x="715.67" y="235.00" width="1.0" height="9.50" fill="#9fd3cc"/>
<rect x="715.02" y="237.60" width="2.30" height="5.65" fill="#33a698"/>
<rect x="718.82" y="223.90" width="1.0" height="18.10" fill="#9fd3cc"/>
<rect x="718.17" y="227.00" width="2.30" height="14.40" fill="#33a698"/>
<rect x="721.98" y="215.75" width="1.0" height="16.00" fill="#9fd3cc"/>
<rect x="721.33" y="218.00" width="2.30" height="8.75" fill="#33a698"/>
<rect x="725.13" y="216.40" width="1.0" height="27.50" fill="#f6b0ae"/>
<rect x="724.48" y="221.75" width="2.30" height="3.25" fill="#f05d59"/>
<rect x="728.29" y="207.60" width="1.0" height="23.15" fill="#9fd3cc"/>
<rect x="727.64" y="213.25" width="2.30" height="14.75" fill="#33a698"/>
<rect x="731.44" y="207.00" width="1.0" height="24.40" fill="#f6b0ae"/>
<rect x="730.79" y="214.50" width="2.30" height="7.75" fill="#f05d59"/>
<rect x="734.59" y="200.00" width="1.0" height="25.10" fill="#9fd3cc"/>
<rect x="733.94" y="213.90" width="2.30" height="10.85" fill="#33a698"/>
<rect x="737.75" y="191.40" width="1.0" height="28.10" fill="#9fd3cc"/>
<rect x="737.10" y="196.60" width="2.30" height="22.30" fill="#33a698"/>
<rect x="740.90" y="187.60" width="1.0" height="15.40" fill="#f6b0ae"/>
<rect x="740.25" y="197.10" width="2.30" height="5.50" fill="#f05d59"/>
<rect x="744.06" y="175.50" width="1.0" height="28.40" fill="#9fd3cc"/>
<rect x="743.41" y="184.50" width="2.30" height="17.25" fill="#33a698"/>
<rect x="747.21" y="154.50" width="1.0" height="36.50" fill="#9fd3cc"/>
<rect x="746.56" y="157.60" width="2.30" height="24.40" fill="#33a698"/>
<rect x="750.36" y="151.40" width="1.0" height="15.00" fill="#f6b0ae"/>
<rect x="749.71" y="158.25" width="2.30" height="1.75" fill="#f05d59"/>
<rect x="753.52" y="151.00" width="1.0" height="16.00" fill="#9fd3cc"/>
<rect x="752.87" y="154.25" width="2.30" height="10.75" fill="#33a698"/>
<rect x="756.67" y="151.75" width="1.0" height="17.75" fill="#f6b0ae"/>
<rect x="756.02" y="154.50" width="2.30" height="5.50" fill="#f05d59"/>
<rect x="759.83" y="158.25" width="1.0" height="22.50" fill="#f6b0ae"/>
<rect x="759.18" y="160.75" width="2.30" height="14.00" fill="#f05d59"/>
<rect x="762.98" y="167.00" width="1.0" height="20.60" fill="#f6b0ae"/>
<rect x="762.33" y="174.50" width="2.30" height="12.25" fill="#f05d59"/>
<rect x="766.13" y="182.50" width="1.0" height="13.90" fill="#f6b0ae"/>
<rect x="765.48" y="184.75" width="2.30" height="6.65" fill="#f05d59"/>
</g>
<rect x="982.25" y="4.75" width="40.25" height="452.0" fill="#fff"/>
<rect x="2.75" y="438.25" width="1019.75" height="18.5" fill="#fff"/>
<line x1="982.25" y1="5.25" x2="982.25" y2="456.75" stroke="#555" stroke-width="1"/>
<line x1="2.75" y1="438.25" x2="1022.5" y2="438.25" stroke="#555" stroke-width="1"/>
<g font-size="8.3" fill="#222" stroke="#222" stroke-width="0.25">
<text transform="translate(988.00,431.45) rotate(0.03) scale(0.5)" font-size="16.60" fill="#222" stroke="#222" stroke-width="0.50" textLength="58.00" lengthAdjust="spacingAndGlyphs">0.80000</text>
<text transform="translate(988.00,406.13) rotate(0.03) scale(0.5)" font-size="16.60" fill="#222" stroke="#222" stroke-width="0.50" textLength="58.00" lengthAdjust="spacingAndGlyphs">0.80500</text>
<text transform="translate(988.00,380.82) rotate(0.03) scale(0.5)" font-size="16.60" fill="#222" stroke="#222" stroke-width="0.50" textLength="58.00" lengthAdjust="spacingAndGlyphs">0.81000</text>
<text transform="translate(988.00,355.50) rotate(0.03) scale(0.5)" font-size="16.60" fill="#222" stroke="#222" stroke-width="0.50" textLength="58.00" lengthAdjust="spacingAndGlyphs">0.81500</text>
<text transform="translate(988.00,330.19) rotate(0.03) scale(0.5)" font-size="16.60" fill="#222" stroke="#222" stroke-width="0.50" textLength="58.00" lengthAdjust="spacingAndGlyphs">0.82000</text>
<text transform="translate(988.00,304.87) rotate(0.03) scale(0.5)" font-size="16.60" fill="#222" stroke="#222" stroke-width="0.50" textLength="58.00" lengthAdjust="spacingAndGlyphs">0.82500</text>
<text transform="translate(988.00,279.56) rotate(0.03) scale(0.5)" font-size="16.60" fill="#222" stroke="#222" stroke-width="0.50" textLength="58.00" lengthAdjust="spacingAndGlyphs">0.83000</text>
<text transform="translate(988.00,254.24) rotate(0.03) scale(0.5)" font-size="16.60" fill="#222" stroke="#222" stroke-width="0.50" textLength="58.00" lengthAdjust="spacingAndGlyphs">0.83500</text>
<text transform="translate(988.00,228.93) rotate(0.03) scale(0.5)" font-size="16.60" fill="#222" stroke="#222" stroke-width="0.50" textLength="58.00" lengthAdjust="spacingAndGlyphs">0.84000</text>
<text transform="translate(988.00,203.61) rotate(0.03) scale(0.5)" font-size="16.60" fill="#222" stroke="#222" stroke-width="0.50" textLength="58.00" lengthAdjust="spacingAndGlyphs">0.84500</text>
<text transform="translate(988.00,178.30) rotate(0.03) scale(0.5)" font-size="16.60" fill="#222" stroke="#222" stroke-width="0.50" textLength="58.00" lengthAdjust="spacingAndGlyphs">0.85000</text>
<text transform="translate(988.00,152.98) rotate(0.03) scale(0.5)" font-size="16.60" fill="#222" stroke="#222" stroke-width="0.50" textLength="58.00" lengthAdjust="spacingAndGlyphs">0.85500</text>
<text transform="translate(988.00,127.67) rotate(0.03) scale(0.5)" font-size="16.60" fill="#222" stroke="#222" stroke-width="0.50" textLength="58.00" lengthAdjust="spacingAndGlyphs">0.86000</text>
<text transform="translate(988.00,102.35) rotate(0.03) scale(0.5)" font-size="16.60" fill="#222" stroke="#222" stroke-width="0.50" textLength="58.00" lengthAdjust="spacingAndGlyphs">0.86500</text>
<text transform="translate(988.00,77.04) rotate(0.03) scale(0.5)" font-size="16.60" fill="#222" stroke="#222" stroke-width="0.50" textLength="58.00" lengthAdjust="spacingAndGlyphs">0.87000</text>
<text transform="translate(988.00,51.72) rotate(0.03) scale(0.5)" font-size="16.60" fill="#222" stroke="#222" stroke-width="0.50" textLength="58.00" lengthAdjust="spacingAndGlyphs">0.87500</text>
<text transform="translate(988.00,26.41) rotate(0.03) scale(0.5)" font-size="16.60" fill="#222" stroke="#222" stroke-width="0.50" textLength="58.00" lengthAdjust="spacingAndGlyphs">0.88000</text>
</g>
<rect x="983" y="5.3" width="39" height="16.6" fill="#fff"/>
<rect x="984.4" y="6.9" width="36.2" height="13.6" rx="2" fill="#fff" stroke="#f0f0f2" stroke-width="0.8"/>
<text transform="translate(988.40,15.90) rotate(0.03) scale(0.5)" font-size="12.80" fill="#444" stroke="#444" stroke-width="0.30" textLength="23.20" lengthAdjust="spacingAndGlyphs">SGD</text>
<path d="M982.5 54.72h36.5a1.5 1.5 0 0 1 1.5 1.5v9a1.5 1.5 0 0 1 -1.5 1.5h-36.5z" fill="#2962ff"/>
<text transform="translate(988.00,63.67) rotate(0.03) scale(0.5)" font-size="16.60" fill="#fff" stroke="#fff" stroke-width="0.40" textLength="58.00" lengthAdjust="spacingAndGlyphs">0.87264</text>
<path d="M982.5 143.17h36.5a1.5 1.5 0 0 1 1.5 1.5v9a1.5 1.5 0 0 1 -1.5 1.5h-36.5z" fill="#2962ff"/>
<text transform="translate(988.00,152.12) rotate(0.03) scale(0.5)" font-size="16.60" fill="#fff" stroke="#fff" stroke-width="0.40" textLength="58.00" lengthAdjust="spacingAndGlyphs">0.85517</text>
<path d="M982.5 174.56h36.5a1.5 1.5 0 0 1 1.5 1.5v9a1.5 1.5 0 0 1 -1.5 1.5h-36.5z" fill="#2962ff"/>
<text transform="translate(988.00,183.51) rotate(0.03) scale(0.5)" font-size="16.60" fill="#fff" stroke="#fff" stroke-width="0.40" textLength="58.00" lengthAdjust="spacingAndGlyphs">0.84897</text>
<path d="M982.5 249.35h36.5a1.5 1.5 0 0 1 1.5 1.5v9a1.5 1.5 0 0 1 -1.5 1.5h-36.5z" fill="#2962ff"/>
<text transform="translate(988.00,258.30) rotate(0.03) scale(0.5)" font-size="16.60" fill="#fff" stroke="#fff" stroke-width="0.40" textLength="58.00" lengthAdjust="spacingAndGlyphs">0.83420</text>
<rect x="946" y="185.2" width="74.5" height="12" rx="1.5" fill="#ef5350"/>
<line x1="982.25" y1="185.2" x2="982.25" y2="197.2" stroke="#555" stroke-width="1" opacity="0.3"/>
<text transform="translate(949.00,194.15) rotate(0.03) scale(0.5)" font-size="16.60" fill="#fff" stroke="#fff" stroke-width="0.40" textLength="60.00" lengthAdjust="spacingAndGlyphs">AUDSGD</text>
<text transform="translate(988.00,194.15) rotate(0.03) scale(0.5)" font-size="16.60" fill="#fff" stroke="#fff" stroke-width="0.40" textLength="58.00" lengthAdjust="spacingAndGlyphs">0.84690</text>
<g font-size="8.3" fill="#222" stroke="#222" stroke-width="0.25">
<text transform="translate(40.65,449.90) rotate(0.03) scale(0.5)" font-size="16.60" fill="#222" stroke="#222" stroke-width="0.50" textLength="27.40" lengthAdjust="spacingAndGlyphs">Nov</text>
<text transform="translate(106.99,449.90) rotate(0.03) scale(0.5)" font-size="16.60" fill="#222" stroke="#222" stroke-width="0.50" textLength="27.00" lengthAdjust="spacingAndGlyphs">Dec</text>
<text transform="translate(170.57,449.90) rotate(0.03) scale(0.5)" font-size="16.60" fill="#222" stroke="#222" stroke-width="0.20" textLength="37.60" lengthAdjust="spacingAndGlyphs" font-weight="bold">2025</text>
<text transform="translate(242.71,449.90) rotate(0.03) scale(0.5)" font-size="16.60" fill="#222" stroke="#222" stroke-width="0.50" textLength="26.60" lengthAdjust="spacingAndGlyphs">Feb</text>
<text transform="translate(305.79,449.90) rotate(0.03) scale(0.5)" font-size="16.60" fill="#222" stroke="#222" stroke-width="0.50" textLength="26.60" lengthAdjust="spacingAndGlyphs">Mar</text>
<text transform="translate(372.38,449.90) rotate(0.03) scale(0.5)" font-size="16.60" fill="#222" stroke="#222" stroke-width="0.50" textLength="25.20" lengthAdjust="spacingAndGlyphs">Apr</text>
<text transform="translate(440.87,449.90) rotate(0.03) scale(0.5)" font-size="16.60" fill="#222" stroke="#222" stroke-width="0.50" textLength="28.80" lengthAdjust="spacingAndGlyphs">May</text>
<text transform="translate(511.01,449.90) rotate(0.03) scale(0.5)" font-size="16.60" fill="#222" stroke="#222" stroke-width="0.50" textLength="25.80" lengthAdjust="spacingAndGlyphs">Jun</text>
<text transform="translate(578.30,449.90) rotate(0.03) scale(0.5)" font-size="16.60" fill="#222" stroke="#222" stroke-width="0.50" textLength="21.60" lengthAdjust="spacingAndGlyphs">Jul</text>
<text transform="translate(649.44,449.90) rotate(0.03) scale(0.5)" font-size="16.60" fill="#222" stroke="#222" stroke-width="0.50" textLength="27.20" lengthAdjust="spacingAndGlyphs">Aug</text>
<text transform="translate(715.98,449.90) rotate(0.03) scale(0.5)" font-size="16.60" fill="#222" stroke="#222" stroke-width="0.50" textLength="26.00" lengthAdjust="spacingAndGlyphs">Sep</text>
<text transform="translate(785.47,449.90) rotate(0.03) scale(0.5)" font-size="16.60" fill="#222" stroke="#222" stroke-width="0.50" textLength="25.60" lengthAdjust="spacingAndGlyphs">Oct</text>
<text transform="translate(857.56,449.90) rotate(0.03) scale(0.5)" font-size="16.60" fill="#222" stroke="#222" stroke-width="0.50" textLength="27.40" lengthAdjust="spacingAndGlyphs">Nov</text>
<text transform="translate(920.74,449.90) rotate(0.03) scale(0.5)" font-size="16.60" fill="#222" stroke="#222" stroke-width="0.50" textLength="27.00" lengthAdjust="spacingAndGlyphs">Dec</text>
</g>
<g font-size="6.3" stroke-width="0.22">
<text transform="translate(7.56,15.25) rotate(0.03) scale(0.5)" font-size="12.60" fill="#222" stroke="#222" stroke-width="0.44" textLength="51.28" lengthAdjust="spacingAndGlyphs">AUD/SGD</text>
<text transform="translate(35.90,15.25) rotate(0.03) scale(0.5)" font-size="12.60" fill="#222" stroke="#222" stroke-width="0.44" textLength="2.40" lengthAdjust="spacingAndGlyphs">·</text>
<text transform="translate(40.20,15.25) rotate(0.03) scale(0.5)" font-size="12.60" fill="#222" stroke="#222" stroke-width="0.44" textLength="12.00" lengthAdjust="spacingAndGlyphs">1D</text>
<text transform="translate(49.40,15.25) rotate(0.03) scale(0.5)" font-size="12.60" fill="#222" stroke="#222" stroke-width="0.44" textLength="2.40" lengthAdjust="spacingAndGlyphs">·</text>
<text transform="translate(52.90,15.25) rotate(0.03) scale(0.5)" font-size="12.60" fill="#222" stroke="#222" stroke-width="0.44" textLength="38.80" lengthAdjust="spacingAndGlyphs">OANDA</text>
<text transform="translate(76.30,15.25) rotate(0.03) scale(0.5)" font-size="12.60" fill="#222" stroke="#222" stroke-width="0.44" textLength="8.00" lengthAdjust="spacingAndGlyphs">O</text>
<text transform="translate(80.60,15.25) rotate(0.03) scale(0.5)" font-size="12.60" fill="#f0605d" stroke="#f0605d" stroke-width="0.16" textLength="43.20" lengthAdjust="spacingAndGlyphs">0.84814</text>
<text transform="translate(106.10,15.25) rotate(0.03) scale(0.5)" font-size="12.60" fill="#222" stroke="#222" stroke-width="0.44" textLength="7.80" lengthAdjust="spacingAndGlyphs">H</text>
<text transform="translate(110.30,15.25) rotate(0.03) scale(0.5)" font-size="12.60" fill="#f0605d" stroke="#f0605d" stroke-width="0.16" textLength="44.00" lengthAdjust="spacingAndGlyphs">0.84859</text>
<text transform="translate(136.00,15.25) rotate(0.03) scale(0.5)" font-size="12.60" fill="#222" stroke="#222" stroke-width="0.44" textLength="4.80" lengthAdjust="spacingAndGlyphs">L</text>
<text transform="translate(138.70,15.25) rotate(0.03) scale(0.5)" font-size="12.60" fill="#f0605d" stroke="#f0605d" stroke-width="0.16" textLength="43.60" lengthAdjust="spacingAndGlyphs">0.84580</text>
<text transform="translate(164.80,15.25) rotate(0.03) scale(0.5)" font-size="12.60" fill="#222" stroke="#222" stroke-width="0.44" textLength="7.00" lengthAdjust="spacingAndGlyphs">C</text>
<text transform="translate(168.70,15.25) rotate(0.03) scale(0.5)" font-size="12.60" fill="#f0605d" stroke="#f0605d" stroke-width="0.16" textLength="44.40" lengthAdjust="spacingAndGlyphs">0.84690</text>
<text transform="translate(195.00,15.25) rotate(0.03) scale(0.5)" font-size="12.60" fill="#f0605d" stroke="#f0605d" stroke-width="0.16" textLength="48.60" lengthAdjust="spacingAndGlyphs">−0.00086</text>
<text transform="translate(222.00,15.25) rotate(0.03) scale(0.5)" font-size="12.60" fill="#f0605d" stroke="#f0605d" stroke-width="0.16" textLength="46.00" lengthAdjust="spacingAndGlyphs">(−0.10%)</text>
</g>
</g></svg></body></html>
